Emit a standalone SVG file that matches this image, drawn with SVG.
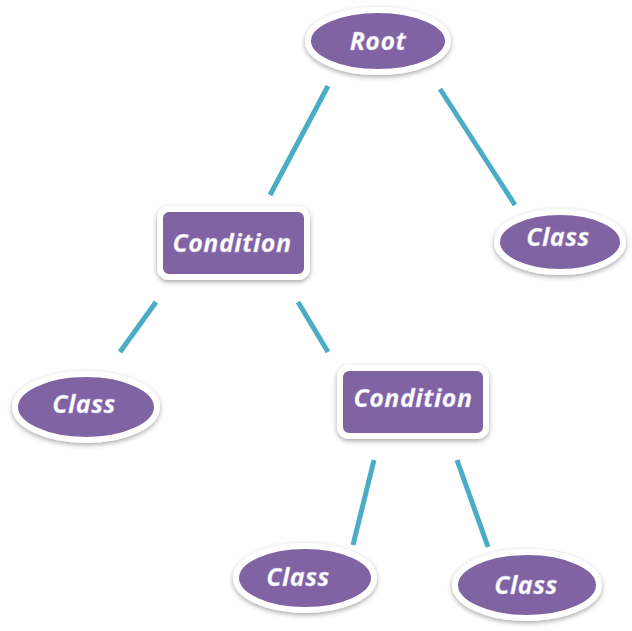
<svg xmlns="http://www.w3.org/2000/svg" width="632" height="631" viewBox="0 0 632 631">
<style>
.node{fill:#8064a2;stroke:#ffffff;stroke-width:6;filter:url(#sh);}
.lbl{font-family:"Open Sans","Liberation Sans",sans-serif;font-weight:bold;font-style:italic;font-size:25px;letter-spacing:0.5px;fill:#ffffff;text-anchor:middle;stroke:#c9b8e6;stroke-width:0.4;}
.edge{stroke:#4bacc6;stroke-width:5;fill:none;}
</style>
<defs>
<filter id="sh" x="-20%" y="-20%" width="140%" height="150%">
<feDropShadow dx="0" dy="2" stdDeviation="2.5" flood-color="#000000" flood-opacity="0.35"/>
</filter>
</defs>
<rect width="632" height="631" fill="#ffffff"/>
<g id="connectors">
<line class="edge" x1="328" y1="86" x2="270" y2="195"/>
<line class="edge" x1="440" y1="89" x2="515" y2="205"/>
<line class="edge" x1="156" y1="302" x2="120" y2="352"/>
<line class="edge" x1="298" y1="302" x2="328" y2="352"/>
<line class="edge" x1="374" y1="460" x2="353" y2="545"/>
<line class="edge" x1="457" y1="460" x2="488" y2="547"/>
</g>
<g id="root">
<ellipse class="node" cx="378" cy="41" rx="70" ry="31"/>
<text class="lbl" x="378" y="50">Root</text>
</g>
<g id="condition1">
<rect class="node" x="160" y="209" width="147" height="68" rx="9"/>
<text class="lbl" x="232" y="252">Condition</text>
</g>
<g id="class-right">
<ellipse class="node" cx="560" cy="242" rx="63" ry="30"/>
<text class="lbl" x="558" y="246">Class</text>
</g>
<g id="class-left">
<ellipse class="node" cx="86" cy="407" rx="71" ry="33"/>
<text class="lbl" x="84" y="413">Class</text>
</g>
<g id="condition2">
<rect class="node" x="340" y="368" width="146" height="68" rx="9"/>
<text class="lbl" x="413" y="407">Condition</text>
</g>
<g id="class-bottom-left">
<ellipse class="node" cx="305" cy="578" rx="69" ry="32"/>
<text class="lbl" x="298" y="586">Class</text>
</g>
<g id="class-bottom-right">
<ellipse class="node" cx="527" cy="585" rx="72" ry="33"/>
<text class="lbl" x="526" y="594">Class</text>
</g>
</svg>
